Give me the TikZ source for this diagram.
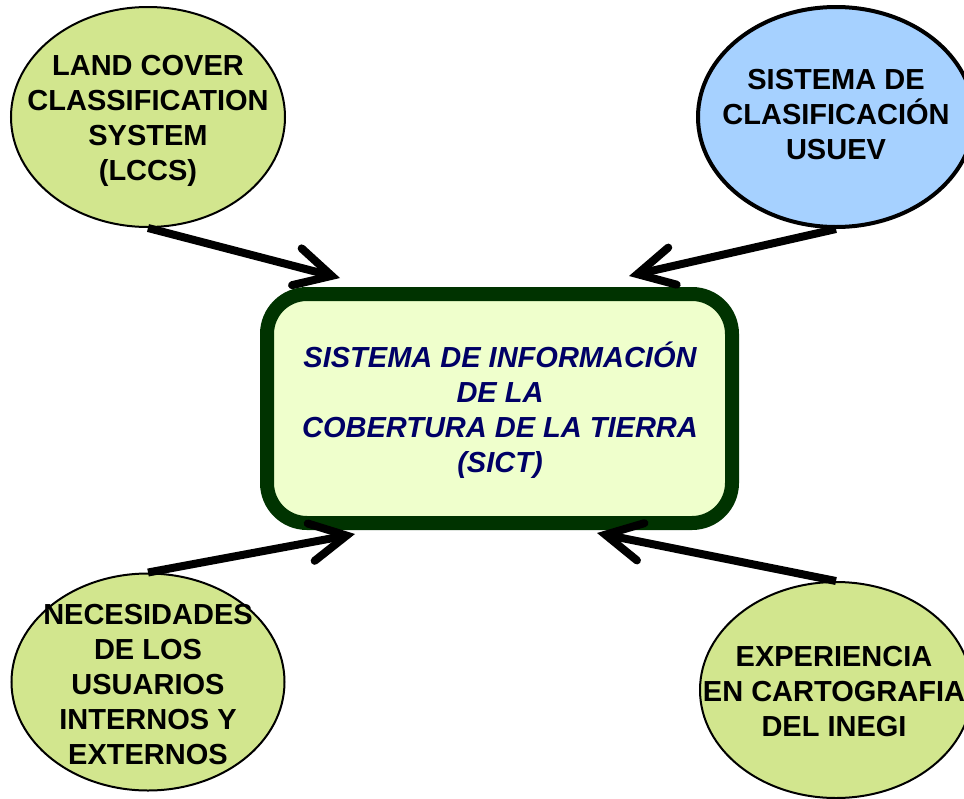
\documentclass[tikz,border=0pt]{standalone}
\usepackage{fontspec}
\setmainfont{Liberation Sans}
\usetikzlibrary{arrows.meta,shapes.geometric}
\definecolor{ellgreen}{HTML}{D2E68E}
\definecolor{ellblue}{HTML}{A6D1FF}
\definecolor{boxfill}{HTML}{EFFFCC}
\definecolor{boxline}{HTML}{003300}
\definecolor{navytext}{HTML}{000066}
\begin{document}
\begin{tikzpicture}[x=1pt,y=-1pt,
  bubble/.style={ellipse, draw=black, fill=ellgreen, line width=2pt, inner sep=0pt},
  bubbletext/.style={align=center, font=\fontsize{29}{35}\selectfont\bfseries, text=black, inner sep=0pt},
  centerbox/.style={rectangle, rounded corners=40pt, draw=boxline, fill=boxfill, line width=14pt,
    minimum width=465pt, minimum height=229pt, inner sep=0pt},
  centertext/.style={align=center, font=\fontsize{29}{35}\selectfont\bfseries\itshape, text=navytext, inner sep=0pt},
  conn/.style={line width=8pt, -{Straight Barb[length=36pt, width=38pt, line cap=round, line join=miter]}}
]
\useasboundingbox (0,0) rectangle (964,798);
\clip (0,0) rectangle (964,798);

% ellipses
\node[bubble, minimum width=274pt, minimum height=220pt] (lccs) at (148,117) {};
\node[bubble, fill=ellblue, line width=4pt, minimum width=276pt, minimum height=220pt] (usuev) at (836,117) {};
\node[bubble, minimum width=273pt, minimum height=217pt] (necesidades) at (148,682) {};
\node[bubble, minimum width=272pt, minimum height=216pt] (experiencia) at (836,690) {};

% texts
\node[bubbletext] (lccstext) at (148,121) {LAND COVER\\CLASSIFICATION\\SYSTEM\\(LCCS)};
\node[bubbletext] (usuevtext) at (836,115) {SISTEMA DE\\CLASIFICACIÓN\\USUEV};
\node[bubbletext] (necesidadestext) at (148,685) {NECESIDADES\\DE LOS\\USUARIOS\\INTERNOS Y\\EXTERNOS};
\node[bubbletext] (experienciatext) at (834,692) {EXPERIENCIA\\EN CARTOGRAFIA\\DEL INEGI};

% center
\node[centerbox] (sict) at (499.5,408.5) {};
\node[centertext] (sicttext) at (500,410) {SISTEMA DE INFORMACIÓN\\DE LA\\COBERTURA DE LA TIERRA\\(SICT)};

% arrow tips
\coordinate (t1) at (340,278);
\coordinate (t2) at (629,276);
\coordinate (t3) at (355,534);
\coordinate (t4) at (597,533);

\draw[conn] (lccs.south) -- (t1);
\draw[conn] (usuev.south) -- (t2);
\draw[conn] (necesidades.north) -- (t3);
\draw[conn] (experiencia.north) -- (t4);
\end{tikzpicture}
\end{document}
